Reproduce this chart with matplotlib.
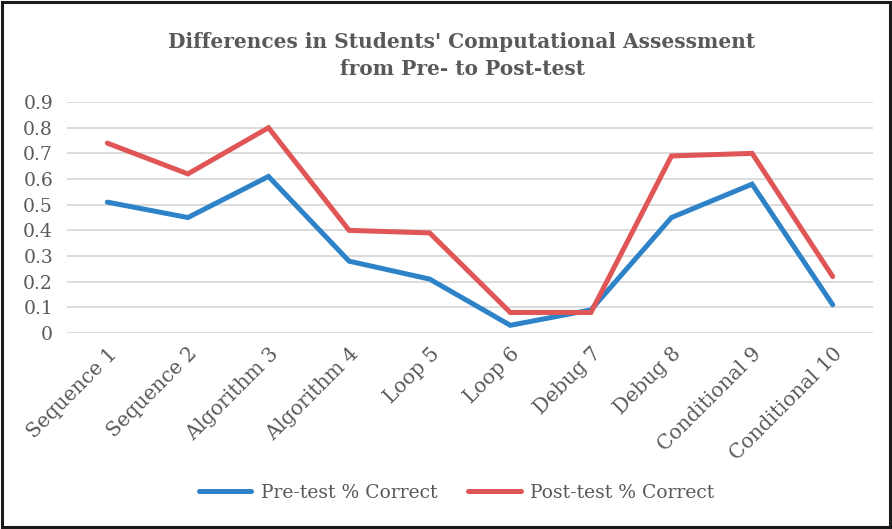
import matplotlib
matplotlib.use('Agg')
import matplotlib.pyplot as plt
from matplotlib.patches import Rectangle

# Datos
categories = ["Sequence 1", "Sequence 2", "Algorithm 3", "Algorithm 4", "Loop 5",
              "Loop 6", "Debug 7", "Debug 8", "Conditional 9", "Conditional 10"]
pre_test = [0.51, 0.45, 0.61, 0.28, 0.21, 0.03, 0.09, 0.45, 0.58, 0.11]
post_test = [0.74, 0.62, 0.80, 0.40, 0.39, 0.08, 0.08, 0.69, 0.70, 0.22]
y_ticks = [0, 0.1, 0.2, 0.3, 0.4, 0.5, 0.6, 0.7, 0.8, 0.9]

plt.rcParams['font.family'] = ['DejaVu Serif']
TEXT = '#595959'

fig = plt.figure(figsize=(8.92, 5.29), dpi=100)
ax = fig.add_axes([0.0751, 0.3705, 0.9036, 0.4366])

x = list(range(len(categories)))
ax.plot(x, pre_test, color='#2D82C8', lw=3.6, solid_capstyle='round',
        solid_joinstyle='miter', label='Pre-test % Correct')
ax.plot(x, post_test, color='#E05555', lw=3.6, solid_capstyle='round',
        solid_joinstyle='miter', label='Post-test % Correct')

ax.set_xlim(-0.5, len(categories) - 0.5)
ax.set_ylim(0, 0.9)
ax.set_yticks(y_ticks)
ax.set_yticklabels([f"{v:g}" for v in y_ticks])
ax.yaxis.grid(True, color='#D9D9D9', lw=1.3)
ax.set_axisbelow(True)
for s in ax.spines.values():
    s.set_visible(False)
ax.tick_params(axis='both', length=0, labelsize=13.5, labelcolor=TEXT)
ax.tick_params(axis='y', pad=10)
ax.set_xticks(x)
ax.set_xticklabels(categories, rotation=45, ha='right', rotation_mode='anchor')
ax.tick_params(axis='x', pad=8, labelsize=14.5)

fig.text(0.518, 0.895, "Differences in Students' Computational Assessment\nfrom Pre- to Post-test",
         ha='center', va='center', fontsize=14.5, fontweight='bold', color=TEXT,
         linespacing=1.45)

leg = fig.legend(loc='center', bbox_to_anchor=(0.512, 0.068), ncol=2, frameon=False,
                 fontsize=13.5, handlelength=2.8, columnspacing=1.65, handletextpad=0.5)
for t in leg.get_texts():
    t.set_color(TEXT)

# Marco exterior
fig.patches.append(Rectangle((0.002, 0.003), 0.996, 0.994, transform=fig.transFigure,
                             fill=False, ec='#1a1a1a', lw=2.2))

fig.savefig('out.png', dpi=100)
